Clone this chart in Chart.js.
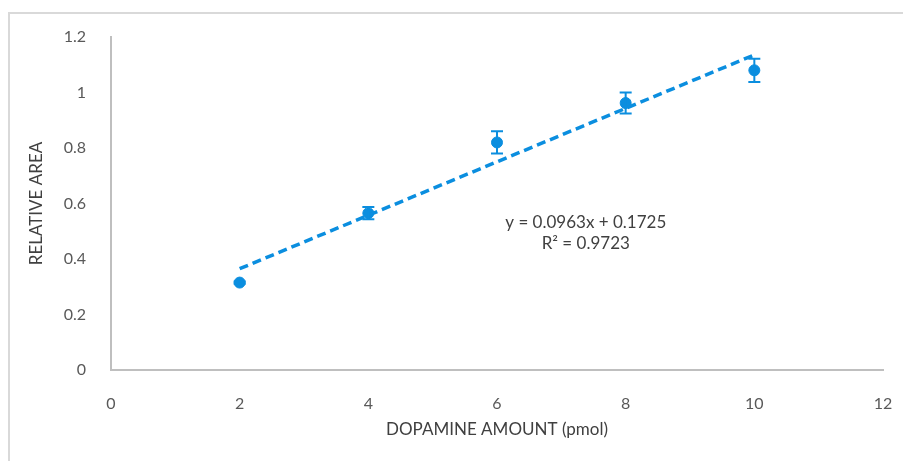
<!DOCTYPE html>
<html>
<head>
<meta charset="utf-8">
<script src="https://cdn.jsdelivr.net/npm/chart.js@4"></script>
<style>
  html, body { margin: 0; padding: 0; background: #fff; }
  #wrap { position: relative; width: 903px; height: 461px; }
  #frame { position: absolute; left: 8px; top: 12px; right: 0; bottom: 0;
           border-left: 2px solid #d9d9d9; border-top: 2px solid #d9d9d9; }
  canvas { position: absolute; left: 0; top: 0; }
</style>
</head>
<body>
<div id="wrap">
  <div id="frame"></div>
  <canvas id="chart" width="903" height="461"></canvas>
</div>
<script>
const amounts = [2, 4, 6, 8, 10];
const relArea = [0.315, 0.565, 0.82, 0.962, 1.08];
const errors = [0.004, 0.022, 0.04, 0.038, 0.042];
const trendX = [2, 10];
const trendY = [0.365, 1.1355];
const equationLines = ['y = 0.0963x + 0.1725', 'R\u00B2 = 0.9723'];

const blue = '#0B8EDF';
const tickColor = '#595959';
const font = 'Lato, "Open Sans", sans-serif';

// draws the error bars and the trendline label
const extras = {
    id: 'extras',
    afterDatasetsDraw(chart) {
        const ctx = chart.ctx;
        const xs = chart.scales.x, ys = chart.scales.y;
        ctx.save();
        ctx.strokeStyle = blue;
        ctx.lineWidth = 2;
        amounts.forEach((a, i) => {
            const px = xs.getPixelForValue(a);
            const top = ys.getPixelForValue(relArea[i] + errors[i]);
            const bot = ys.getPixelForValue(relArea[i] - errors[i]);
            ctx.beginPath();
            ctx.moveTo(px, top); ctx.lineTo(px, bot);
            ctx.moveTo(px - 6, top); ctx.lineTo(px + 6, top);
            ctx.moveTo(px - 6, bot); ctx.lineTo(px + 6, bot);
            ctx.stroke();
        });
        ctx.fillStyle = '#404040';
        ctx.font = '17px ' + font;
        ctx.textAlign = 'center';
        ctx.textBaseline = 'middle';
        const cx = xs.getPixelForValue(7.38);
        const cy = ys.getPixelForValue(0.53);
        equationLines.forEach((t, i) => ctx.fillText(t, cx, cy + i * 21));
        ctx.restore();
    }
};

new Chart(document.getElementById('chart'), {
    type: 'scatter',
    data: {
        datasets: [{
            type: 'line',
            data: trendX.map((x, i) => ({x: x, y: trendY[i]})),
            borderColor: blue,
            borderWidth: 3.5,
            borderDash: [9, 5],
            pointRadius: 0,
            fill: false
        }, {
            data: amounts.map((x, i) => ({x: x, y: relArea[i]})),
            backgroundColor: blue,
            borderColor: blue,
            pointRadius: 5.5
        }]
    },
    options: {
        responsive: false,
        animation: false,
        layout: { padding: { top: 37, right: 20, bottom: 0, left: 0 } },
        plugins: { legend: { display: false }, tooltip: { enabled: false } },
        scales: {
            x: {
                type: 'linear',
                min: 0, max: 12,
                afterFit: s => { s.height = 91; s.paddingRight = 0; s.paddingLeft = 0; },
                ticks: { stepSize: 2, padding: 16, color: tickColor, font: { family: font, size: 16 } },
                grid: { display: false },
                border: { display: true, color: '#bfbfbf', width: 2 },
                title: {
                    display: true, text: 'DOPAMINE AMOUNT (pmol)', color: '#404040',
                    font: { family: font, size: 17 }, padding: { top: 0, bottom: 21 }
                }
            },
            y: {
                min: 0, max: 1.2,
                afterFit: s => { s.width = 111; },
                ticks: {
                    stepSize: 0.2, padding: 17, color: tickColor, font: { family: font, size: 16 },
                    callback: v => String(Number(v.toFixed(1)))
                },
                grid: { display: false },
                border: { display: true, color: '#bfbfbf', width: 2 },
                title: {
                    display: true, text: 'RELATIVE AREA', color: '#404040',
                    font: { family: font, size: 17 }, padding: { top: 26, bottom: 0 }
                }
            }
        }
    },
    plugins: [extras]
});
</script>
</body>
</html>
